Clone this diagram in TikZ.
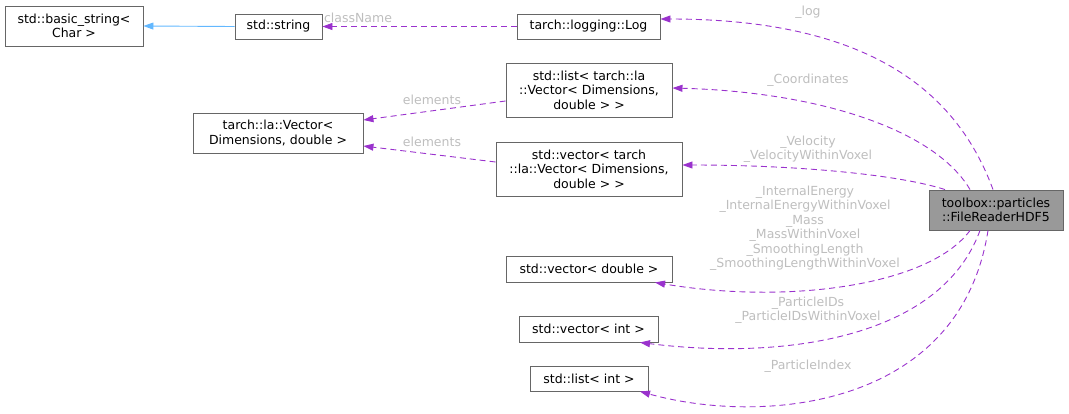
\documentclass[tikz,border=0pt]{standalone}
\usepackage{fontspec}
\setmainfont{DejaVu Sans}
\usetikzlibrary{arrows.meta}

\definecolor{edgepurple}{HTML}{9A32CD}
\definecolor{edgeblue}{HTML}{63B8FF}
\definecolor{boxline}{HTML}{666666}
\definecolor{labelgray}{HTML}{BEBEBE}
\definecolor{classfill}{HTML}{999999}

\tikzset{
  classbox/.style={draw=boxline, fill=white, line width=0.9pt, align=center, inner sep=2pt,
    font=\fontsize{12.5}{14.5}\selectfont},
  edgelabel/.style={text=labelgray, align=center, inner sep=0pt, font=\fontsize{12.5}{14.5}\selectfont},
  usage/.style={edgepurple, line width=0.9pt, dash pattern=on 6pt off 4pt,
    -{Triangle[length=10pt,width=7pt]}},
  inherit/.style={edgeblue, line width=0.9pt, -{Triangle[length=10pt,width=7pt]}}
}

\begin{document}
\begin{tikzpicture}[x=1pt, y=-1pt]
\useasboundingbox (0,0) rectangle (1069,413);

% Classes
\node[classbox, minimum width=138pt, minimum height=40pt] (basicstr) at (74,26) {std::basic\_string<\\Char >};
\node[classbox, minimum width=87pt, minimum height=25pt] (stdstr) at (278.5,26.5) {std::string};
\node[classbox, minimum width=143pt, minimum height=25pt] (log) at (588.5,26.5) {tarch::logging::Log};
\node[classbox, minimum width=166pt, minimum height=54pt] (listvec) at (589,90) {std::list< tarch::la\\::Vector< Dimensions,\\double > >};
\node[classbox, minimum width=170pt, minimum height=40pt] (lavec) at (278,133) {tarch::la::Vector<\\Dimensions, double >};
\node[classbox, minimum width=186pt, minimum height=54pt] (vecvec) at (589,169) {std::vector< tarch\\::la::Vector< Dimensions,\\double > >};
\node[classbox, minimum width=166pt, minimum height=26pt] (vecdbl) at (589,269) {std::vector< double >};
\node[classbox, minimum width=139pt, minimum height=26pt] (vecint) at (588.5,329) {std::vector< int >};
\node[classbox, minimum width=118pt, minimum height=25pt] (listint) at (589,378.5) {std::list< int >};
\node[classbox, fill=classfill, minimum width=134pt, minimum height=40pt] (reader) at (996,210) {toolbox::particles\\::FileReaderHDF5};

% Inheritance
\draw[inherit] (stdstr.west) -- (basicstr.east);

% Members
\draw[usage] (log.west) -- (stdstr.east);
\draw[usage] (listvec.west |- 0,101) -- (lavec.east |- 0,120);
\draw[usage] (vecvec.west |- 0,162) -- (lavec.east |- 0,146);
\draw[usage] (reader.north -| 993,0) .. controls (960,100) and (880,19) .. (log.east |- 0,19);
\draw[usage] (reader.north -| 970,0) .. controls (935,130) and (820,92) .. (listvec.east |- 0,88);
\draw[usage] (reader.north -| 945,0) .. controls (900,175) and (800,165) .. (vecvec.east |- 0,165);
\draw[usage] (reader.south -| 970,0) .. controls (930,285) and (790,305) .. (vecdbl.south -| 655,0);
\draw[usage] (reader.south -| 980,0) .. controls (940,340) and (780,360) .. (vecint.south -| 640,0);
\draw[usage] (reader.south -| 988,0) .. controls (960,410) and (760,425) .. (listint.south -| 640,0);

% Member names
\node[edgelabel] (lclass) at (358,18) {className};
\node[edgelabel] (lelem1) at (432,100) {elements};
\node[edgelabel] (lelem2) at (432,142) {elements};
\node[edgelabel] (llog) at (808,12) {\_log};
\node[edgelabel] (lcoord) at (808,80) {\_Coordinates};
\node[edgelabel] (lvel) at (808,149) {\_Velocity\\\_VelocityWithinVoxel};
\node[edgelabel] (ldbl) at (805,228) {\_InternalEnergy\\\_InternalEnergyWithinVoxel\\\_Mass\\\_MassWithinVoxel\\\_SmoothingLength\\\_SmoothingLengthWithinVoxel};
\node[edgelabel] (lids) at (808,310) {\_ParticleIDs\\\_ParticleIDsWithinVoxel};
\node[edgelabel] (lidx) at (808,366) {\_ParticleIndex};
\end{tikzpicture}
\end{document}
